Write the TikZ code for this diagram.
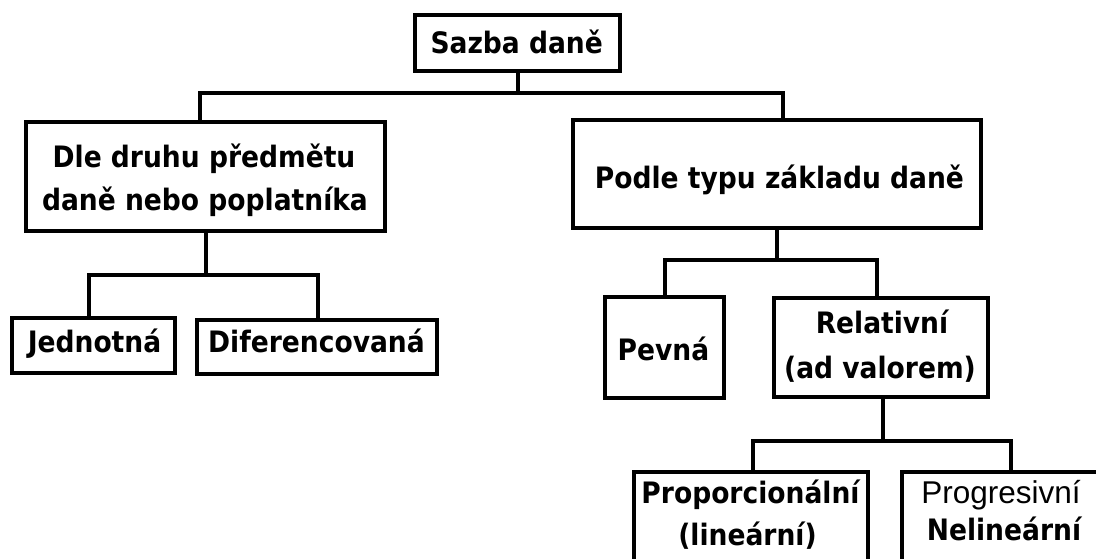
\documentclass[tikz,border=0pt]{standalone}
\usepackage{fontspec}
\setmainfont{DejaVu Sans Condensed}[BoldFont={DejaVu Sans Condensed Bold}]
\newfontfamily\arialfont{Liberation Sans}
\begin{document}
\begin{tikzpicture}[x=1pt,y=-1pt,
  box/.style={draw, line width=4pt, inner sep=0pt, outer sep=0pt},
  bus/.style={line width=4pt, line join=miter},
  lbl/.style={font=\bfseries\fontsize{29.5}{43}\selectfont, inner sep=0pt, anchor=base},
  lblr/.style={font=\arialfont\fontsize{31.5}{43}\selectfont, inner sep=0pt, anchor=base}]
\useasboundingbox (0,0) rectangle (1096,558);
\clip (0,0) rectangle (1096,558);
% boxes
\node[box, minimum width=205.5pt, minimum height=56pt] (sazba) at (517.5,42.5) {};
\node[box, minimum width=359pt, minimum height=109pt] (dle) at (205.5,176.5) {};
\node[box, minimum width=408pt, minimum height=108pt] (podle) at (777,174) {};
\node[box, minimum width=163pt, minimum height=55pt] (jed) at (93.5,345.5) {};
\node[box, minimum width=240pt, minimum height=54pt] (dif) at (317,347) {};
\node[box, minimum width=119pt, minimum height=101pt] (pevna) at (664.5,347.5) {};
\node[box, minimum width=214pt, minimum height=99pt] (rel) at (881,347.5) {};
\node[box, minimum width=234pt, minimum height=148pt] (prop) at (751,546) {};
\node[box, minimum width=248pt, minimum height=148pt] (prog) at (1026,546) {};
% texts
\node[lbl] at (516.7,53) {Sazba daně};
\node[lbl] at (204,167) {Dle druhu předmětu};
\node[lbl] at (205,210) {daně nebo poplatníka};
\node[lbl] at (779.5,188) {Podle typu základu daně};
\node[lbl] at (94.5,352) {Jednotná};
\node[lbl] at (316.5,352) {Diferencovaná};
\node[lbl] at (663.5,360) {Pevná};
\node[lbl] at (882,333) {Relativní};
\node[lbl] at (880,378) {(ad valorem)};
\node[lbl] at (750.5,503) {Proporcionální};
\node[lbl] at (747.5,545) {(lineární)};
\node[lblr] at (1001,503) {Progresivní};
\node[lbl] at (1004,540) {Nelineární};
% bus coordinates
\coordinate (b1l) at (200,93);
\coordinate (b1r) at (783,93);
\coordinate (b2l) at (89,275);
\coordinate (b2r) at (318,275);
\coordinate (b3l) at (665,260);
\coordinate (b3r) at (877,260);
\coordinate (b4l) at (753,441);
\coordinate (b4r) at (1011,441);
% connectors
\draw[bus] (sazba.south) -- (sazba.south |- b1l);
\draw[bus] (dle.north -| b1l) -- (b1l) -- (b1r) -- (podle.north -| b1r);
\draw[bus] (dle.south) -- (dle.south |- b2l);
\draw[bus] (jed.north -| b2l) -- (b2l) -- (b2r) -- (dif.north -| b2r);
\draw[bus] (podle.south) -- (podle.south |- b3l);
\draw[bus] (pevna.north -| b3l) -- (b3l) -- (b3r) -- (rel.north -| b3r);
\draw[bus] ([xshift=2pt]rel.south) -- ([xshift=2pt]rel.south |- b4l);
\draw[bus] (prop.north -| b4l) -- (b4l) -- (b4r) -- (prog.north -| b4r);
\end{tikzpicture}
\end{document}
